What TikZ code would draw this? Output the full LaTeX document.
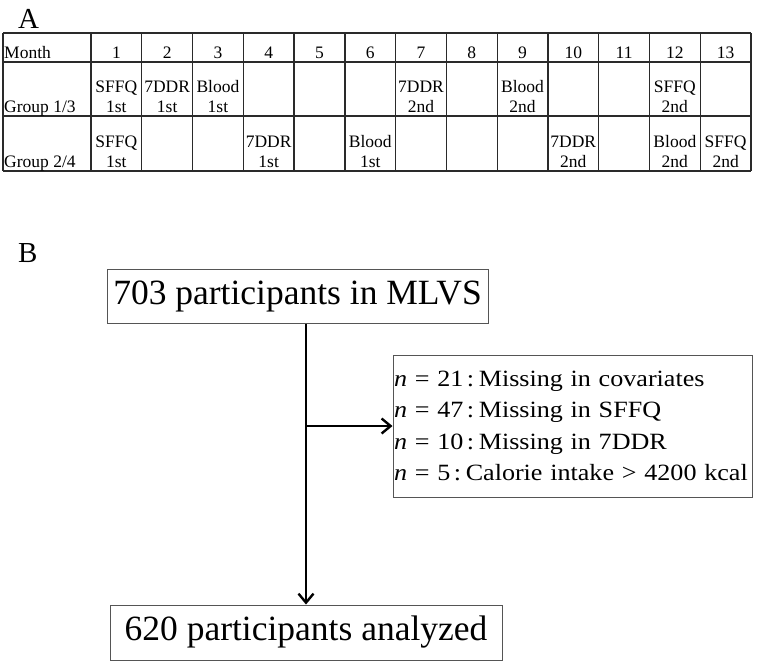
\documentclass[tikz,border=0pt]{standalone}
\usepackage{fontspec}
\setmainfont{Liberation Serif}
\newfontfamily\sidefont[FakeStretch=1.12]{Liberation Serif}
\usetikzlibrary{arrows.meta}
\definecolor{gridc}{HTML}{2A2A2A}
\definecolor{boxc}{HTML}{555555}
\frenchspacing
\begin{document}
\begin{tikzpicture}[x=1pt,y=-1pt,
  cell/.style={font=\fontsize{17.5}{20}\selectfont, inner sep=0pt, anchor=base},
  panel/.style={font=\fontsize{29}{32}\selectfont, inner sep=0pt, anchor=base west},
  grid line/.style={draw=gridc, line width=1.3pt},
  bigbox/.style={draw=boxc, line width=1pt, font=\fontsize{35.5}{40}\selectfont, inner sep=0pt},
  sidebox/.style={draw=boxc, line width=1pt, font=\sidefont\fontsize{23.3}{31.5}\selectfont, inner sep=0pt, align=left},
  flow/.style={line width=2.6pt, -{Straight Barb[length=9pt,width=15pt,line width=2.4pt]}}]
\useasboundingbox (0,0) rectangle (757,665);
\fill[white] (0,0) rectangle (757,665);
% Panel labels
\node[panel] (labA) at (18,28) {A};
\node[panel] (labB) at (18,262) {B};
% Table grid
\foreach \yy in {33,62,116,171} \draw[grid line] (3,\yy) -- (751,\yy);
\draw[grid line] (3,33) -- (3,171);
\foreach \i in {0,...,13} \draw[grid line] ({91+\i*50.77},33) -- ({91+\i*50.77},171);
% Row headers
\node[cell, anchor=base west] (hMonth) at (4,58) {Month};
\node[cell, anchor=base west] (hG1) at (4,112) {Group 1/3};
\node[cell, anchor=base west] (hG2) at (4,167) {Group 2/4};
\foreach \i in {1,...,13} \node[cell] (m\i) at ({91+(\i-0.5)*50.77},58) {\i};
% Group 1/3 cells
\foreach \c/\a/\b in {1/SFFQ/1st,2/7DDR/1st,3/Blood/1st,7/7DDR/2nd,9/Blood/2nd,12/SFFQ/2nd}{
  \node[cell] (ga\c) at ({91+(\c-0.5)*50.77},92) {\a};
  \node[cell] (gb\c) at ({91+(\c-0.5)*50.77},112) {\b};
}
% Group 2/4 cells
\foreach \c/\a/\b in {1/SFFQ/1st,4/7DDR/1st,6/Blood/1st,10/7DDR/2nd,12/Blood/2nd,13/SFFQ/2nd}{
  \node[cell] (ha\c) at ({91+(\c-0.5)*50.77},147) {\a};
  \node[cell] (hb\c) at ({91+(\c-0.5)*50.77},167) {\b};
}
% Flow chart
\node[bigbox, minimum width=381pt, minimum height=54pt] (top) at (297.5,296) {703 participants in MLVS};
\node[bigbox, minimum width=392pt, minimum height=55pt] (bot) at (306,632.5) {620 participants analyzed};
\node[sidebox, minimum width=359pt, minimum height=142pt, text width=357pt] (side) at (572.5,426)
  {\textit{n} = 21\kern3.5pt:\hspace{0.2em}Missing in covariates\\
   \textit{n} = 47\kern3.5pt:\hspace{0.2em}Missing in SFFQ\\
   \textit{n} = 10\kern3.5pt:\hspace{0.2em}Missing in 7DDR\\
   \textit{n} = 5\kern3.5pt:\hspace{0.2em}Calorie intake > 4200 kcal};
\coordinate (junc) at (bot.north |- side.west);
\draw[flow] (top.south -| bot.north) -- (bot.north);
\draw[flow] (junc) -- (side.west);
\end{tikzpicture}
\end{document}
